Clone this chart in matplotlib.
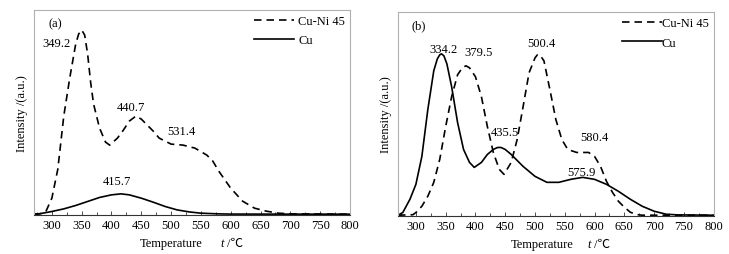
import matplotlib
matplotlib.use("Agg")
import matplotlib.pyplot as plt
from matplotlib.ticker import MultipleLocator

plt.rcParams['font.family'] = ['Liberation Serif', 'Noto Sans CJK SC', 'DejaVu Sans']

# ---- data (a) ----
a_cuni_T = [270, 280, 290, 300, 310, 320, 330, 340, 345, 350, 355, 360, 365, 370, 380, 390, 397,
            410, 420, 430, 441, 450, 460, 470, 480, 490, 500, 520, 540, 560, 570, 580,
            600, 620, 640, 660, 680, 700, 800]
a_cuni_I = [0, 0.3, 2.7, 16, 45, 98, 136, 170, 180, 184, 179, 160, 132, 110, 86, 72, 69,
            76, 84, 93, 98, 95, 89, 83, 76, 73, 70, 69, 66, 59, 53, 43,
            26, 13, 6, 3, 1, 0.3, 0]
a_cu_T = [270, 280, 300, 320, 340, 360, 380, 400, 416, 430, 450, 470, 490, 510, 530, 550,
          580, 600, 800]
a_cu_I = [0, 0.5, 2.7, 5.3, 8.7, 12.7, 16.7, 19.3, 20.3, 19.3, 16, 12, 7.7, 4.3, 2.3, 1,
          0.3, 0.1, 0]

# ---- data (b) ----
b_cu_T = [270, 278, 290, 300, 310, 320, 330, 336, 340, 343, 347, 352, 360, 370, 380, 390, 398,
          410, 420, 430, 437, 443, 450, 460, 480, 500, 520, 540, 560, 580, 600, 620, 640, 660,
          680, 700, 720, 740, 800]
b_cu_I = [0, 2.7, 16, 31, 59, 106, 145, 157, 161, 162, 160, 152, 129, 93, 66, 53, 48,
          53, 61, 66, 68, 68, 66, 61, 49, 39, 33, 33, 36, 38, 36, 31, 24, 16,
          9, 4, 1, 0.3, 0]
b_cuni_T = [270, 295, 300, 310, 320, 330, 340, 350, 360, 370, 378, 384, 390, 400, 410, 420, 430,
            440, 448, 460, 470, 480, 490, 500, 504, 508, 515, 525, 535, 545, 555, 570, 590,
            600, 610, 620, 630, 640, 650, 660, 670, 680, 800]
b_cuni_I = [0, 0.5, 2.7, 9, 19, 33, 56, 89, 119, 141, 148, 150, 148, 139, 119, 89, 63,
            46, 41, 53, 76, 109, 143, 158, 161, 161, 155, 126, 96, 76, 66, 63, 63,
            59, 49, 34, 23, 14, 8, 3, 0.7, 0, 0]

xticks = [300, 350, 400, 450, 500, 550, 600, 650, 700, 750, 800]

a_labels = [("(a)", 305, 191), ("349.2", 307, 171), ("440.7", 433, 107),
            ("531.4", 517, 83), ("415.7", 410, 33)]
b_labels = [("(b)", 304, 191), ("334.2", 346, 167), ("379.5", 405, 164),
            ("500.4", 511, 173), ("435.5", 450, 84), ("580.4", 600, 79),
            ("575.9", 578, 43)]

fig = plt.figure(figsize=(7.29, 2.55), dpi=100)
axa = fig.add_axes([0.0466, 0.153, 0.4334, 0.804])
axb = fig.add_axes([0.546, 0.149, 0.433, 0.800])

dash = (0, (4.5, 3.0))
for ax, (cT, cI), (nT, nI), labels, hpad, xl in [
        (axa, (a_cu_T, a_cu_I), (a_cuni_T, a_cuni_I), a_labels, 0.3, (500, 583, 594)),
        (axb, (b_cu_T, b_cu_I), (b_cuni_T, b_cuni_I), b_labels, 0.0, (512, 588, 599))]:
    ax.plot(nT, nI, color='black', lw=1.2, linestyle=dash, label='Cu-Ni 45')
    ax.plot(cT, cI, color='black', lw=1.2, label='Cu')
    ax.set_xlim(270, 800)
    ax.set_ylim(-0.8, 204)
    ax.set_yticks([])
    ax.set_xticks(xticks)
    ax.xaxis.set_minor_locator(MultipleLocator(25))
    ax.tick_params(axis='x', which='major', direction='in', length=3, width=0.6,
                   labelsize=9, pad=3, color='#333333')
    ax.tick_params(axis='x', which='minor', direction='in', length=2, width=0.6,
                   color='#333333')
    for s in ['top', 'left', 'right']:
        ax.spines[s].set_color('#b0b0b0')
        ax.spines[s].set_linewidth(0.8)
    ax.spines['bottom'].set_color('#333333')
    ax.spines['bottom'].set_linewidth(0.8)
    ax.set_ylabel('Intensity /(a.u.)', fontsize=9, labelpad=4)
    tr = ax.get_xaxis_transform()
    ax.text(xl[0], -0.135, 'Temperature', fontsize=9, ha='center', va='center',
            transform=tr)
    ax.text(xl[1], -0.135, 't', fontsize=9, ha='left', va='center',
            style='italic', transform=tr)
    ax.text(xl[2], -0.135, '/℃', fontsize=9, ha='left', va='center',
            family=['Liberation Serif', 'Noto Sans CJK SC', 'DejaVu Sans'],
            transform=tr)
    for txt, x, y in labels:
        ax.text(x, y, txt, fontsize=9, ha='center', va='center')
    ax.legend(loc='upper right', frameon=False, fontsize=9, handlelength=3.2,
              handletextpad=hpad, borderaxespad=0.2, labelspacing=0.6,
              borderpad=0.2)

fig.savefig('out.png', dpi=100)
